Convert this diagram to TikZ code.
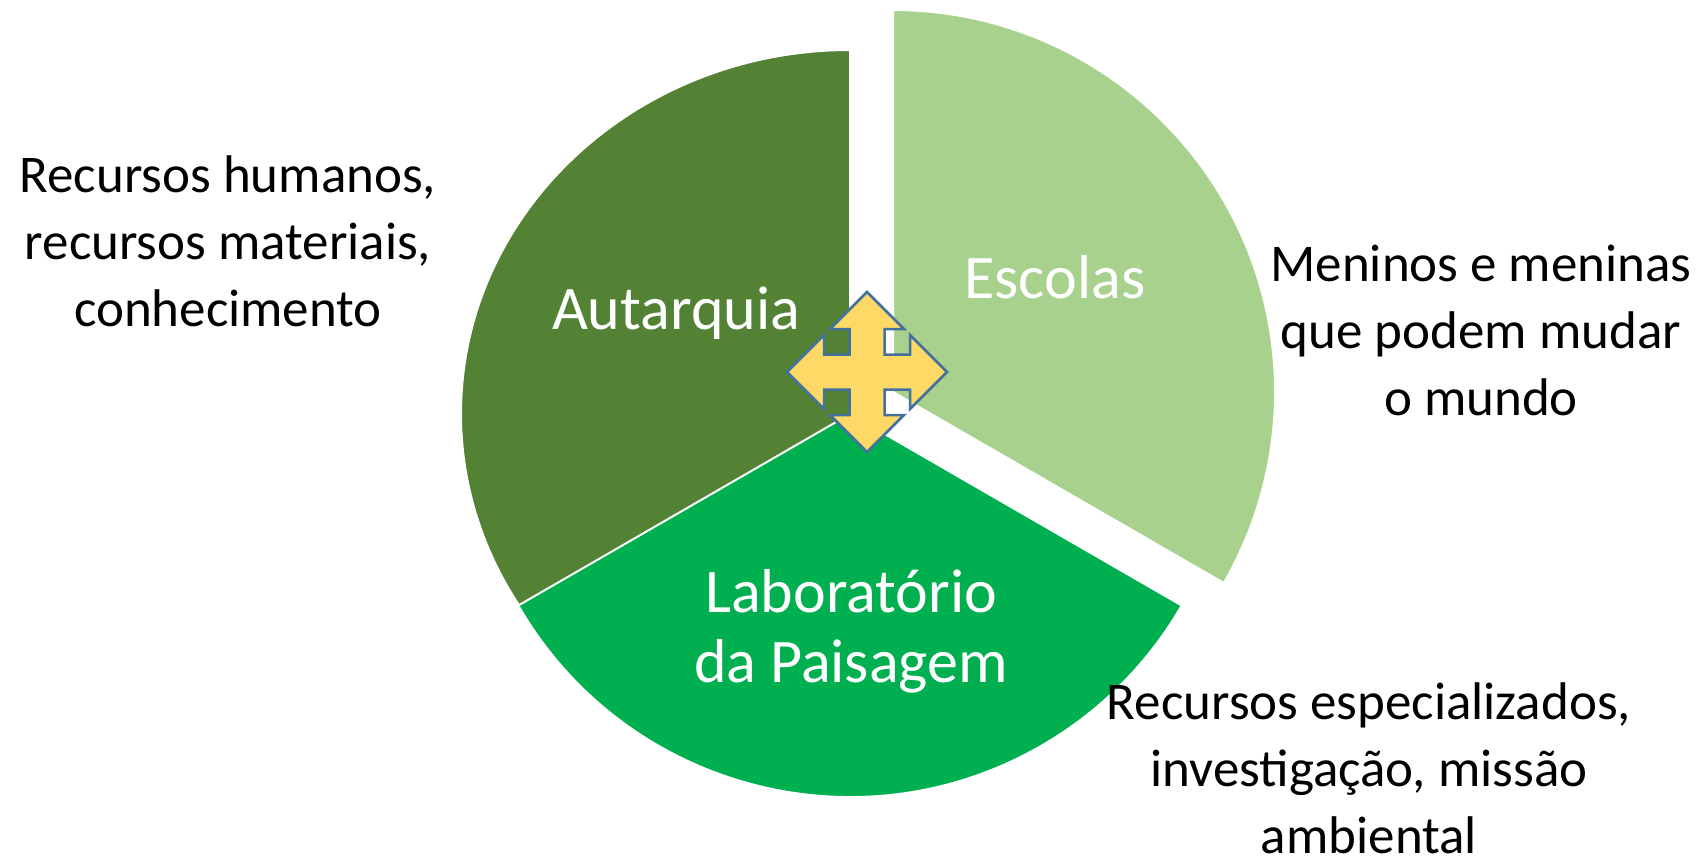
\documentclass[tikz,border=0pt]{standalone}
\usepackage{fontspec}
\setmainfont{Carlito}
\definecolor{autarquiagreen}{HTML}{548235}
\definecolor{escolasgreen}{HTML}{A9D18E}
\definecolor{labgreen}{HTML}{00B050}
\definecolor{arrowfill}{HTML}{FFD966}
\definecolor{arrowline}{HTML}{41719C}
\tikzset{
  slice/.style={draw=white,line width=1pt},
  inlabel/.style={text=white,align=center,font=\fontsize{31}{35}\selectfont},
  outlabel/.style={text=black,align=center,inner sep=0pt,font=\fontsize{26.5}{33.5}\selectfont},
}
\begin{document}
\begin{tikzpicture}[x=0.5pt,y=0.5pt,line join=miter]
\useasboundingbox (0,0) rectangle (1704,859);
%%
\fill[slice,fill=autarquiagreen] (850,445) -- (850,809) arc[start angle=90,end angle=213,x radius=389,y radius=364] -- cycle;
\fill[slice,fill=escolasgreen] (893,467) -- (893,849) arc[start angle=90,end angle=-30,radius=382] -- cycle;
\filldraw[slice,fill=labgreen] (850,445) -- ++(210:383) arc[start angle=210,end angle=330,radius=383] -- cycle;
%
\begin{scope}[shift={(867,487)}]
\filldraw[fill=arrowfill,draw=arrowline,line width=1.25pt]
  (0,80) -- (37,43) -- (17.5,43) -- (17.5,17.5) -- (43,17.5) -- (43,37) -- (80,0)
  -- (43,-37) -- (43,-17.5) -- (17.5,-17.5) -- (17.5,-43) -- (37,-43) -- (0,-80)
  -- (-37,-43) -- (-17.5,-43) -- (-17.5,-17.5) -- (-43,-17.5) -- (-43,-37) -- (-80,0)
  -- (-43,37) -- (-43,17.5) -- (-17.5,17.5) -- (-17.5,43) -- (-37,43) -- cycle;
\end{scope}
%
\node (autarquia) at (676,546) [inlabel] {Autarquia};
\node (escolas) at (1055,582) [inlabel] {Escolas};
\node (laboratorio) at (851,228) [inlabel] {Laboratório\\da Paisagem};
\node (recursos) at (228,618) [outlabel] {Recursos humanos,\\recursos materiais,\\conhecimento};
\node (meninos) at (1481,529) [outlabel] {Meninos e meninas\\que podem mudar\\o mundo};
\node (especializados) at (1369,91) [outlabel] {Recursos especializados,\\investigação, missão\\ambiental};
%
\end{tikzpicture}
\end{document}
